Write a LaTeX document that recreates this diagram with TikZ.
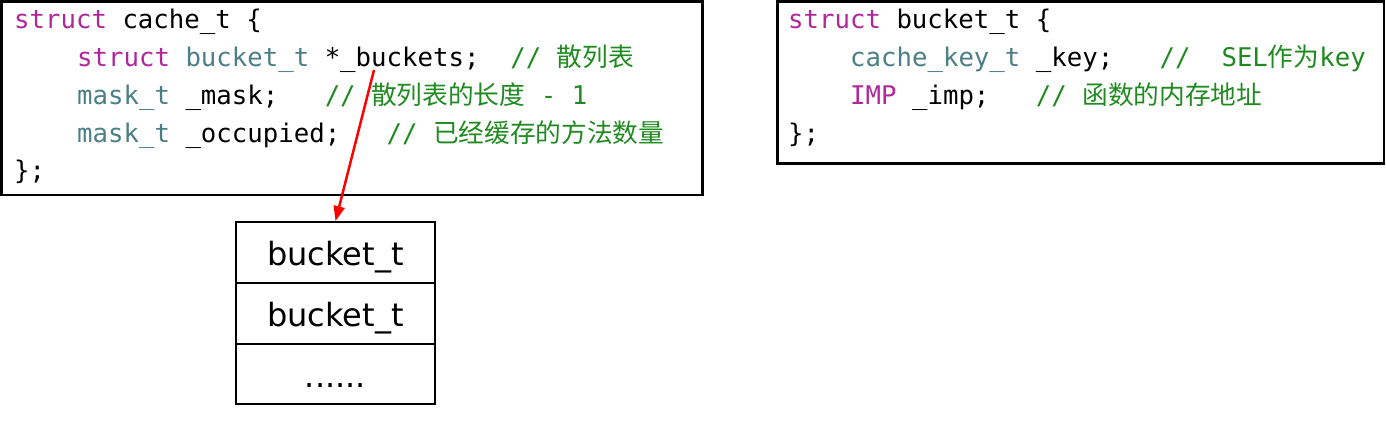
\documentclass[tikz,border=0pt]{standalone}
\usepackage{fontspec}
\setmainfont{DejaVu Sans}
\setmonofont{DejaVu Sans Mono}
\newfontfamily\cjkfont{Noto Sans CJK SC}
\usetikzlibrary{arrows.meta}
\definecolor{kwc}{HTML}{B0279A}
\definecolor{tyc}{HTML}{4B7F86}
\definecolor{cmc}{HTML}{1F8A1F}
\newcommand\kw[1]{\textcolor{kwc}{#1}}
\newcommand\ty[1]{\textcolor{tyc}{#1}}
\newcommand\cm[1]{\textcolor{cmc}{#1}}
\tikzset{
  codeline/.style={anchor=base west, inner sep=0pt, font=\ttfamily\fontsize{25.7}{30}\selectfont},
  codebox/.style={draw=black, line width=2.5pt},
  cell/.style={draw=black, line width=1.8pt, minimum width=199pt, inner sep=0pt,
    text height=26pt, text depth=0pt, font=\fontsize{32}{36}\selectfont},
  ptr/.style={draw=red, line width=2.5pt, -{Triangle[length=15pt,width=11pt]}}
}
\begin{document}
\begin{tikzpicture}[x=1pt,y=-1pt]
\useasboundingbox (0,0) rectangle (1386,421);
% left box
\draw[codebox] (1.5,1.5) rectangle (702.5,195);
\node[codeline] (l1) at (14,28) {\kw{struct}~cache\_t~\{};
\node[codeline] (l2) at (77,66) {\kw{struct}~\ty{bucket\_t}~*\_buckets;~~\cm{//~{\cjkfont 散列表}}};
\node[codeline] (l3) at (77,104) {\ty{mask\_t}~\_mask;~~~\cm{//~{\cjkfont 散列表的长度}~-~1}};
\node[codeline] (l4) at (77,142) {\ty{mask\_t}~\_occupied;~~~\cm{//~{\cjkfont 已经缓存的方法数量}}};
\node[codeline] (l5) at (14,179) {\};};
% right box
\draw[codebox] (777.5,1.5) rectangle (1384,163.5);
\node[codeline] (r1) at (788,28) {\kw{struct}~bucket\_t~\{};
\node[codeline] (r2) at (850,66) {\ty{cache\_key\_t}~\_key;~~~\cm{//~~SEL{\cjkfont 作为}key}};
\node[codeline] (r3) at (850,104) {\kw{IMP}~\_imp;~~~\cm{//~{\cjkfont 函数的内存地址}}};
\node[codeline] (r4) at (788,142) {\};};
% bucket array
\node[cell, minimum height=61pt] (b1) at (335.5,252.5) {bucket\_t};
\node[cell, minimum height=61pt] (b2) at (335.5,313.5) {bucket\_t};
\node[cell, minimum height=60pt] (b3) at (335.5,374) {......};
% pointer
\coordinate (src) at (374,70);
\draw[ptr] (src) -- (b1.north);
\end{tikzpicture}
\end{document}
